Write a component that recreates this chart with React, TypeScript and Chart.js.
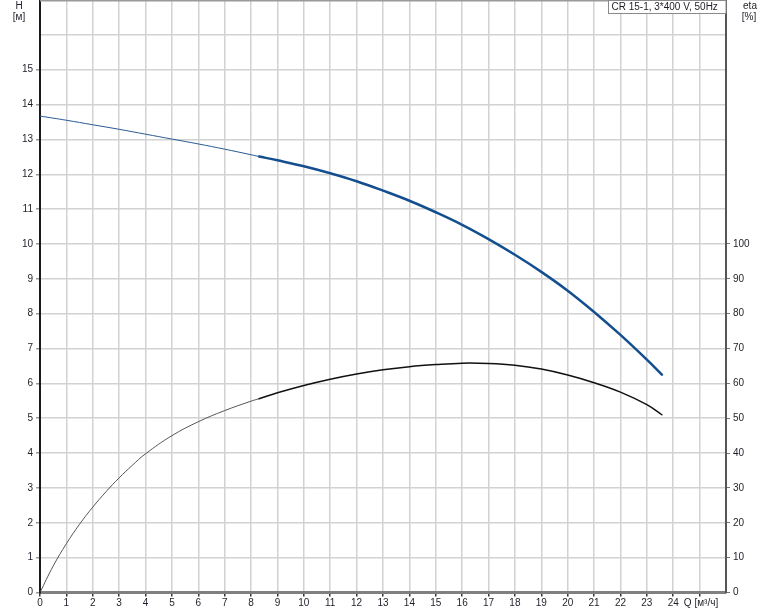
import React, { useEffect, useRef } from "react";
import { Chart, registerables } from "chart.js";

Chart.register(...registerables);

// Flow Q [m³/h] and head H [m]
const qHeadThin = [0, 1, 2, 3, 4, 5, 6, 7, 8, 8.3];
const headThin = [13.67, 13.55, 13.42, 13.29, 13.15, 13.01, 12.87, 12.72, 12.56, 12.51];
const qHeadThick = [8.3, 9, 10, 11, 12, 13, 14, 15, 16, 17, 18, 19, 20, 21, 22, 23, 23.57];
const headThick = [12.51, 12.4, 12.23, 12.03, 11.8, 11.53, 11.24, 10.91, 10.55, 10.14, 9.69, 9.2, 8.66, 8.05, 7.39, 6.68, 6.25];

// Flow Q and efficiency eta [%]
const qEtaThin = [0, 0.5, 1, 1.5, 2, 2.5, 3, 3.5, 4, 5, 6, 7, 8, 8.3];
const etaThin = [0, 7.6, 14.0, 19.6, 24.5, 28.9, 32.9, 36.5, 39.8, 45.0, 49.0, 52.2, 54.9, 55.6];
const qEtaThick = [8.3, 9, 10, 11, 12, 13, 14, 15, 16, 17, 18, 19, 20, 21, 22, 23, 23.57];
const etaThick = [55.6, 57.3, 59.4, 61.2, 62.7, 63.9, 64.8, 65.4, 65.8, 65.7, 65.2, 64.1, 62.4, 60.2, 57.5, 53.9, 51.0];

const xMax = 26;
const xLabelMax = 24;
const yMax = 17;
const yLabelMax = 15;
const etaMax = 170;
const etaLabelMax = 100;
const xUnitLabel = " Q [м³/ч]";
const legendText = "CR 15-1, 3*400 V, 50Hz";

const FONT = 'Arial, "Liberation Sans", sans-serif';
const TEXT = "#1e1e28";

const pts = (xs: number[], ys: number[]) => xs.map((x, i) => ({ x, y: ys[i] }));

const overlay = {
  id: "overlay",
  afterDraw(chart: any) {
    const { ctx, chartArea } = chart;
    ctx.save();
    // top border
    ctx.strokeStyle = "#9a9a9a";
    ctx.lineWidth = 1.5;
    ctx.beginPath();
    ctx.moveTo(chartArea.left, chartArea.top + 0.75);
    ctx.lineTo(chartArea.right, chartArea.top + 0.75);
    ctx.stroke();
    // axis titles
    ctx.fillStyle = TEXT;
    ctx.font = `10px ${FONT}`;
    ctx.textAlign = "center";
    ctx.textBaseline = "middle";
    ctx.fillText("H", 19, 6);
    ctx.fillText("[м]", 19, 17);
    ctx.fillText("eta", 750, 6);
    ctx.fillText("[%]", 749, 17);
    // legend box
    const bx = 608.5;
    const by = 0.5;
    const bw = chartArea.right - bx;
    const bh = 13;
    ctx.fillStyle = "#ffffff";
    ctx.fillRect(bx, by, bw, bh);
    ctx.strokeStyle = "#8a8a8a";
    ctx.lineWidth = 1;
    ctx.strokeRect(bx, by, bw, bh);
    ctx.fillStyle = TEXT;
    ctx.textAlign = "left";
    ctx.fillText(legendText, 611.5, 7.5);
    ctx.restore();
  },
};

export default function App() {
  const ref = useRef<HTMLCanvasElement>(null);
  useEffect(() => {
    if (!ref.current) return;
    const chart = new Chart(ref.current, {
      type: "line",
      data: {
        datasets: [
          {
            data: pts(qHeadThin, headThin),
            borderColor: "#2a5a92",
            borderWidth: 1,
            yAxisID: "y",
          },
          {
            data: pts(qHeadThick, headThick),
            borderColor: "#134f8e",
            borderWidth: 2.5,
            yAxisID: "y",
          },
          {
            data: pts(qEtaThin, etaThin),
            borderColor: "#444444",
            borderWidth: 0.9,
            yAxisID: "y1",
          },
          {
            data: pts(qEtaThick, etaThick),
            borderColor: "#111111",
            borderWidth: 1.5,
            yAxisID: "y1",
          },
        ],
      },
      options: {
        responsive: false,
        animation: false,
        layout: { padding: { top: 0, left: 0, right: 0, bottom: 0 } },
        elements: {
          point: { radius: 0 },
          line: { tension: 0.4, fill: false, borderCapStyle: "round" },
        },
        plugins: { legend: { display: false }, tooltip: { enabled: false } },
        scales: {
          x: {
            type: "linear",
            min: 0,
            max: xMax,
            afterFit: (s: any) => {
              s.height = 18.5;
              s.paddingLeft = 0;
              s.paddingRight = 0;
            },
            border: { color: "#808080", width: 3 },
            grid: {
              color: "#d2d2d2",
              lineWidth: 1.5,
              tickLength: 4,
              tickColor: (c: any) => (c.tick && c.tick.value <= xLabelMax + 1 ? "#333" : "transparent"),
            },
            ticks: {
              stepSize: 1,
              autoSkip: false,
              maxRotation: 0,
              padding: 1,
              color: TEXT,
              font: { family: FONT, size: 10 },
              callback: (v: any) => {
                const n = Number(v);
                if (n <= xLabelMax) return String(n);
                if (n === xLabelMax + 1) return xUnitLabel;
                return null;
              },
            },
          },
          y: {
            type: "linear",
            position: "left",
            min: 0,
            max: yMax,
            afterFit: (s: any) => {
              s.width = 40;
              s.paddingTop = 0;
              s.paddingBottom = 0;
            },
            border: { color: "#1a1a1a", width: 2 },
            grid: {
              color: "#d2d2d2",
              lineWidth: 1.5,
              tickLength: 4,
              tickColor: (c: any) => (c.tick && c.tick.value <= yLabelMax ? "#999" : "transparent"),
            },
            ticks: {
              stepSize: 1,
              autoSkip: false,
              padding: 3,
              color: TEXT,
              font: { family: FONT, size: 10 },
              callback: (v: any) => {
                const n = Number(v);
                if (n <= yLabelMax) return String(n);
                if (n < yMax) return "";
                return null;
              },
            },
          },
          y1: {
            type: "linear",
            position: "right",
            min: 0,
            max: etaMax,
            afterFit: (s: any) => {
              s.width = 48;
              s.paddingTop = 0;
              s.paddingBottom = 0;
            },
            border: { color: "#555555", width: 2 },
            grid: {
              drawOnChartArea: false,
              tickLength: 4,
              tickColor: (c: any) => (c.tick && c.tick.value <= etaLabelMax ? "#777" : "transparent"),
            },
            ticks: {
              stepSize: 10,
              autoSkip: false,
              padding: 3,
              color: TEXT,
              font: { family: FONT, size: 10 },
              callback: (v: any) => {
                const n = Number(v);
                if (n <= etaLabelMax) return String(n);
                if (n < etaMax) return "";
                return null;
              },
            },
          },
        },
      },
      plugins: [overlay],
    } as any);
    return () => chart.destroy();
  }, []);
  return (
    <div style={{ position: "absolute", left: 0, top: 0, width: 774, height: 611, background: "#fff" }}>
      <canvas ref={ref} width={774} height={611} />
    </div>
  );
}
